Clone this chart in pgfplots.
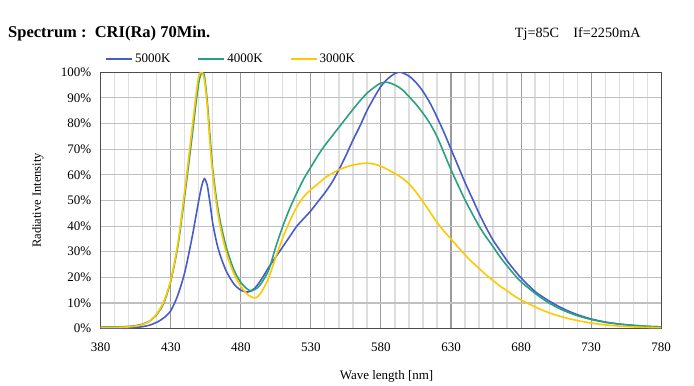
\documentclass[border=0pt]{standalone}
\usepackage{pgfplots}
\pgfplotsset{compat=1.18}
\usepackage{fontspec}
\setmainfont{Liberation Serif}
\definecolor{cblue}{RGB}{72,92,200}
\definecolor{cgreen}{RGB}{42,160,130}
\definecolor{cyellow}{RGB}{255,200,0}
\definecolor{gmajor}{RGB}{155,155,155}
\definecolor{gminor}{RGB}{222,222,222}
\definecolor{ghor}{RGB}{192,192,192}
\pgfplotsset{legend image code/.code={\draw[#1, line width=1.8pt] (0pt,0pt) -- (26pt,0pt);}}
\begin{document}
\begin{tikzpicture}[x=1pt,y=1pt]
\begin{axis}[
  at={(0,0)}, anchor=south west,
  scale only axis, width=560.5pt, height=256.5pt,
  xmin=380, xmax=780, ymin=0, ymax=100,
  xtick={380,430,...,780},
  minor x tick num=4,
  ytick={0,10,...,100},
  yticklabels={0\%,10\%,20\%,30\%,40\%,50\%,60\%,70\%,80\%,90\%,100\%},
  /pgf/number format/assume math mode=true,
  xticklabel style={font=\fontsize{13}{15}\selectfont, yshift=-11pt},
  yticklabel style={font=\fontsize{13}{15}\selectfont, xshift=-6pt},
  major tick length=0pt, minor tick length=0pt,
  xmajorgrids, xminorgrids, ymajorgrids,
  x grid style={draw=gmajor, line width=1.1pt},
  minor x grid style={draw=gminor, line width=1.2pt},
  y grid style={draw=ghor, line width=1.2pt},
  axis line style={draw=black!70, line width=0.9pt},
  xlabel={Wave length [nm]},
  xlabel style={font=\fontsize{13}{15}\selectfont, at={(axis description cs:0.51,-0.185)}, anchor=center},
  ylabel={Radiative Intensity},
  ylabel style={font=\fontsize{12.5}{14}\selectfont, at={(axis description cs:-0.112,0.5)}, anchor=center},
  legend columns=3,
  legend style={draw=none, fill=none, font=\fontsize{13}{15}\selectfont,
    at={(axis description cs:0.008,1.05)}, anchor=west,
    /tikz/every even column/.append style={column sep=25pt},
    inner sep=0pt},
  every axis plot/.append style={line width=1.6pt, smooth, tension=0.45},
]
\addplot[cblue] coordinates {
(380,0.2)(390,0.2)(400,0.3)(405,0.5)(410,0.8)(415,1.4)(420,2.5)(425,4.2)(430,7)(435,13)(440,22)(445,35)(448,44)(450,50)(452,55.5)(454,58.5)(456,56)(458,49)(460,41)(463,33)(466,27.5)(470,22)(475,17.5)(480,15)(485,14.3)(490,15.8)(495,19.5)(500,24)(505,28)(510,32)(515,36)(520,40)(525,43)(530,46)(535,49.5)(540,53)(545,57)(550,62)(555,67.5)(560,73.5)(565,79)(570,85)(575,90)(580,94.5)(585,97.5)(590,99.5)(594,100)(600,98.5)(605,96)(610,92.5)(615,88)(620,82.5)(625,76.5)(630,70)(635,63.5)(640,57)(645,51)(650,45)(655,39.5)(660,34.5)(665,30.5)(670,26.5)(675,23)(680,19.8)(690,14.5)(700,10.8)(710,7.8)(720,5.5)(730,3.8)(740,2.6)(750,1.8)(760,1.3)(770,0.9)(780,0.7)
};
\addlegendentry{5000K}
\addplot[cgreen] coordinates {
(380,0.7)(390,0.7)(400,0.9)(405,1.2)(410,1.8)(415,3)(420,5.5)(425,10)(430,18.5)(435,32)(440,52)(445,74)(448,88)(450,96)(452,99.8)(454,98.5)(456,89)(458,75)(460,62)(463,49)(466,40)(470,31)(475,23)(480,18)(485,15.3)(488,14.8)(492,16)(495,18)(500,23)(505,32)(510,40)(515,47)(520,53)(525,58.5)(530,63)(535,67.5)(540,71.5)(545,75)(550,78.5)(555,82)(560,85.5)(565,88.8)(570,91.8)(575,94)(580,95.8)(585,96)(590,95)(595,93.3)(600,90.5)(605,87.5)(610,84)(615,80)(620,74.9)(625,68.5)(630,62)(635,56)(640,50.2)(645,45)(650,40)(655,35.8)(660,32)(665,28)(670,24.5)(675,21.2)(680,18.3)(690,13.8)(700,10)(710,7.2)(720,5.1)(730,3.6)(740,2.5)(750,1.8)(760,1.3)(770,0.9)(780,0.7)
};
\addlegendentry{4000K}
\addplot[cyellow] coordinates {
(380,0.5)(390,0.5)(400,0.7)(405,1)(410,1.6)(415,3)(420,5.8)(425,10.5)(430,19)(435,33)(440,54)(445,77)(448,91)(450,98.5)(452,100)(454,97)(456,87)(458,72)(460,60)(463,47)(466,38)(470,29)(475,21.5)(480,16.5)(485,13.2)(490,12)(493,13)(496,15.5)(500,20)(505,28)(510,35.5)(515,42)(520,47.5)(525,51.5)(530,54.2)(535,56.5)(540,58.8)(545,60.5)(550,62)(555,63)(560,63.8)(565,64.3)(570,64.5)(575,64.2)(580,63.3)(585,62)(590,60.5)(595,58.8)(600,56.5)(605,53.3)(610,49.5)(615,45.5)(620,41.5)(625,38)(630,35)(635,31.8)(640,28.8)(645,26)(650,23.5)(655,21)(660,18.8)(665,16.6)(670,14.8)(675,12.8)(680,11.2)(690,8.5)(700,6.2)(710,4.5)(720,3.2)(730,2.2)(740,1.5)(750,1.0)(760,0.7)(770,0.5)(780,0.4)
};
\addlegendentry{3000K}
\end{axis}
\node[anchor=west, font=\fontsize{16.5}{18}\selectfont\bfseries, inner sep=0pt] at (-92.7pt,295pt) {Spectrum\ :\ \ CRI(Ra) 70Min.};
\node[anchor=west, font=\fontsize{14.2}{16}\selectfont, inner sep=0pt] at (414pt,295pt) {Tj=85C\quad If=2250mA};
\useasboundingbox (-100.7pt,-56.3pt) rectangle (593.3pt,328.7pt);
\end{tikzpicture}
\end{document}
